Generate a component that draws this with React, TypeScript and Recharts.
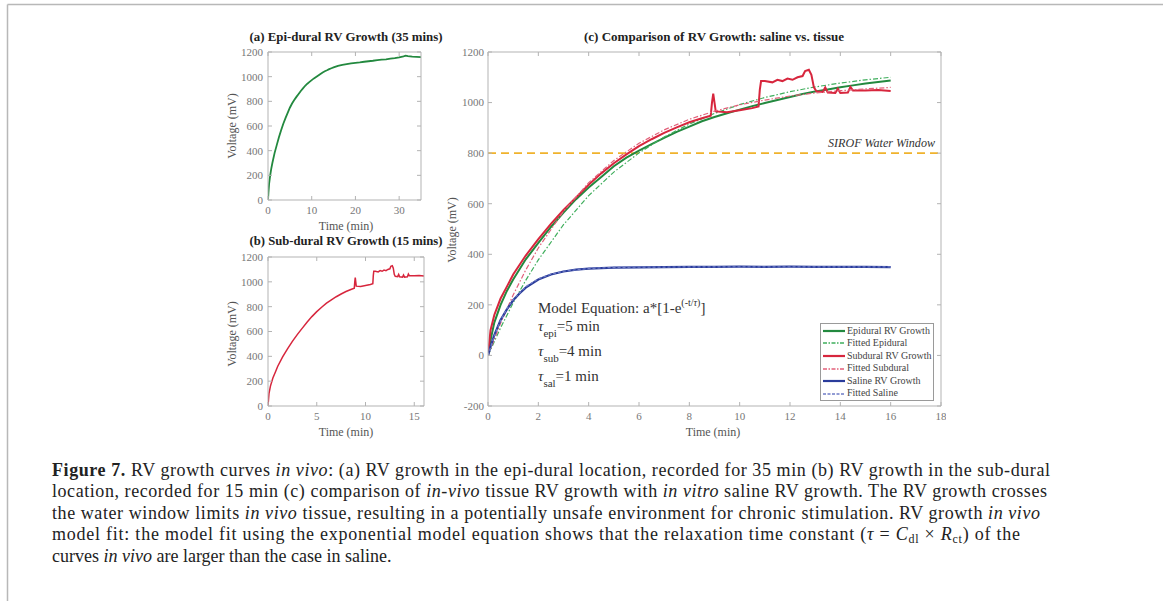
import React from 'react';
import { LineChart, Line, XAxis, YAxis, ReferenceLine, Legend } from 'recharts';

// ---------- data ----------
const epiTime = [0, 0.1, 0.25, 0.5, 0.75, 1, 1.5, 2, 2.5, 3, 3.5, 4, 4.5, 5, 5.5, 6, 6.5, 7, 7.5, 8, 8.5, 9, 9.5, 10, 10.5, 11, 11.5, 12, 12.5, 13, 13.5, 14, 14.5, 15, 15.5, 16, 17, 18, 19, 20, 21, 22, 23, 24, 25, 26, 27, 28, 29, 30, 31, 31.5, 32, 33, 34, 35];
const epiVolt = [0, 60, 130, 200, 255, 300, 380, 445, 508, 565, 618, 664, 706, 748, 782, 810, 836, 860, 884, 905, 926, 943, 958, 972, 986, 998, 1010, 1022, 1034, 1044, 1052, 1061, 1068, 1075, 1081, 1087, 1095, 1102, 1107, 1112, 1116, 1121, 1125, 1129, 1134, 1138, 1141, 1146, 1150, 1157, 1165, 1170, 1166, 1162, 1160, 1158];

const subTime = [0, 0.1, 0.25, 0.5, 0.75, 1, 1.5, 2, 2.5, 3, 3.5, 4, 4.5, 5, 5.5, 6, 6.5, 7, 7.5, 8, 8.5, 8.85, 8.9, 8.95, 9.0, 9.05, 9.5, 10, 10.5, 10.75, 10.8, 10.85, 11, 11.3, 11.5, 11.7, 11.9, 12.1, 12.3, 12.5, 12.6, 12.75, 12.85, 12.95, 13.05, 13.3, 13.4, 13.5, 13.8, 13.9, 14.0, 14.3, 14.4, 14.5, 15, 15.5, 16];
const subVolt = [0, 100, 160, 225, 272, 320, 395, 460, 520, 575, 625, 675, 720, 760, 795, 828, 855, 880, 902, 922, 938, 948, 1000, 1035, 1000, 965, 962, 970, 978, 985, 1050, 1085, 1085, 1080, 1090, 1085, 1095, 1090, 1100, 1105, 1125, 1130, 1110, 1060, 1045, 1042, 1060, 1040, 1038, 1055, 1038, 1040, 1062, 1048, 1048, 1050, 1046];

const salTime = [0, 0.1, 0.25, 0.5, 0.75, 1, 1.25, 1.5, 2, 2.5, 3, 3.5, 4, 5, 6, 7, 8, 9, 10, 11, 12, 13, 14, 15, 16];
const salVolt = [0, 35, 80, 140, 182, 218, 245, 268, 300, 320, 332, 339, 343, 347, 348, 349, 350, 350, 351, 350, 351, 350, 350, 350, 349];

const fitEpiTime = [0, 0.5, 1, 1.5, 2, 3, 4, 5, 6, 7, 8, 9, 10, 11, 12, 13, 14, 15, 16];
const fitEpiVolt = [0, 109, 208, 297, 378, 517, 632, 725, 801, 864, 915, 957, 992, 1020, 1043, 1062, 1077, 1090, 1100];

const fitSubTime = [0, 0.5, 1, 1.5, 2, 3, 4, 5, 6, 7, 8, 9, 10, 11, 12, 13, 14, 15, 16];
const fitSubVolt = [0, 127, 239, 338, 425, 570, 683, 771, 839, 892, 934, 966, 991, 1010, 1026, 1038, 1047, 1054, 1060];

const fitSalTime = [0, 0.25, 0.5, 0.75, 1, 1.5, 2, 2.5, 3, 4, 5, 6, 8, 10, 12, 14, 16];
const fitSalVolt = [0, 77, 138, 185, 221, 272, 303, 321, 333, 344, 348, 349, 350, 350, 350, 350, 350];

const waterWindow = 800;

const aXTicks = [0, 10, 20, 30];
const bXTicks = [0, 5, 10, 15];
const cXTicks = [0, 2, 4, 6, 8, 10, 12, 14, 16, 18];
const abYTicks = [0, 200, 400, 600, 800, 1000, 1200];
const cYTicks = [-200, 0, 200, 400, 600, 800, 1000, 1200];

const legendLabels = ['Epidural RV Growth', 'Fitted Epidural', 'Subdural RV Growth', 'Fitted Subdural', 'Saline RV Growth', 'Fitted Saline'];

// ---------- styles ----------
const SERIF = '"Liberation Serif", "Times New Roman", serif';
const AXIS = '#b3b3b3';
const GREEN = '#23893f';
const GREEN_FIT = '#3fae5c';
const RED = '#d7263d';
const RED_FIT = '#e2607a';
const BLUE = '#2a3c9b';
const BLUE_FIT = '#6f7cc6';
const ORANGE = '#f0b22c';

const legendStyles = [
  { color: GREEN, dash: undefined as string | undefined },
  { color: GREEN_FIT, dash: '4 1.5 1.5 1.5' },
  { color: RED, dash: undefined },
  { color: RED_FIT, dash: '4 1.5 1.5 1.5' },
  { color: BLUE, dash: undefined },
  { color: BLUE_FIT, dash: '3 1.5' },
];

const toPts = (t: number[], v: number[]) => t.map((x, i) => ({ t: x, v: v[i] }));

const epiPts = toPts(epiTime, epiVolt);
const epiPts16 = epiPts.filter((p) => p.t <= 16);
const subPts = toPts(subTime, subVolt);
const salPts = toPts(salTime, salVolt);
const fitEpiPts = toPts(fitEpiTime, fitEpiVolt);
const fitSubPts = toPts(fitSubTime, fitSubVolt);
const fitSalPts = toPts(fitSalTime, fitSalVolt);

const tickStyle = { fontSize: 11, fill: '#777', fontFamily: SERIF };
const blank = () => '';

function boxAxes(xd: [number, number], xt: number[], yd: [number, number], yt: number[], yMargin: number) {
  return [
    <XAxis key="xb" xAxisId={0} dataKey="t" type="number" domain={xd} ticks={xt} interval={0} height={30}
      tickSize={-4} tickMargin={10.5} allowDataOverflow axisLine={{ stroke: AXIS }} tickLine={{ stroke: AXIS }} tick={tickStyle} />,
    <XAxis key="xt" xAxisId="top" orientation="top" dataKey="t" type="number" domain={xd} ticks={xt} interval={0} height={5}
      tickSize={-4} allowDataOverflow tickFormatter={blank} axisLine={{ stroke: AXIS }} tickLine={{ stroke: AXIS }} tick={tickStyle} />,
    <YAxis key="yl" yAxisId={0} type="number" domain={yd} ticks={yt} interval={0} width={60}
      tickSize={-4} tickMargin={yMargin} allowDataOverflow axisLine={{ stroke: AXIS }} tickLine={{ stroke: AXIS }} tick={tickStyle} />,
    <YAxis key="yr" yAxisId="right" orientation="right" type="number" domain={yd} ticks={yt} interval={0} width={5}
      tickSize={-4} allowDataOverflow tickFormatter={blank} axisLine={{ stroke: AXIS }} tickLine={{ stroke: AXIS }} tick={tickStyle} />,
  ];
}

const renderLegend = () => (
  <div style={{ border: '1px solid #9a9a9a', background: '#fff', width: 112, height: 75, boxSizing: 'content-box', fontFamily: SERIF, fontSize: 10, color: '#444', padding: '0.5px 0' }}>
    {legendLabels.map((lab, i) => (
      <div key={lab} style={{ height: 12.6, lineHeight: '12.6px', display: 'flex', alignItems: 'center', whiteSpace: 'nowrap' }}>
        <svg width={24} height={8} style={{ marginLeft: 1, marginRight: 1 }}>
          <line x1={1} y1={4} x2={23} y2={4} stroke={legendStyles[i].color} strokeWidth={legendStyles[i].dash ? 1.3 : 2.2} strokeDasharray={legendStyles[i].dash} />
        </svg>
        <span>{lab}</span>
      </div>
    ))}
  </div>
);

export default function App() {
  return (
    <div style={{ position: 'absolute', left: 0, top: 0, width: 1163, height: 601, background: '#fff', overflow: 'hidden' }}>
      {/* Panel (a) */}
      <div style={{ position: 'absolute', left: 208, top: 47 }}>
        <LineChart width={218} height={183} margin={{ top: 0, right: 0, bottom: 0, left: 0 }}>
          {boxAxes([0, 35], aXTicks, [0, 1200], abYTicks, 9)}
          <Line data={epiPts} dataKey="v" stroke={GREEN} strokeWidth={1.8} dot={false} isAnimationActive={false} />
        </LineChart>
      </div>

      {/* Panel (b) */}
      <div style={{ position: 'absolute', left: 208, top: 252 }}>
        <LineChart width={221} height={184} margin={{ top: 0, right: 0, bottom: 0, left: 0 }}>
          {boxAxes([0, 16], bXTicks, [0, 1200], abYTicks, 9)}
          <Line data={subPts} dataKey="v" stroke={RED} strokeWidth={1.5} dot={false} isAnimationActive={false} />
        </LineChart>
      </div>

      {/* Panel (c) */}
      <div style={{ position: 'absolute', left: 428, top: 47 }}>
        <LineChart width={518} height={389} margin={{ top: 0, right: 0, bottom: 0, left: 0 }}>
          {boxAxes([0, 18], cXTicks, [-200, 1200], cYTicks, 8)}
          <ReferenceLine y={waterWindow} stroke={ORANGE} strokeWidth={1.6} strokeDasharray="8 5" />
          <Line data={epiPts16} dataKey="v" stroke={GREEN} strokeWidth={2} dot={false} isAnimationActive={false} />
          <Line data={fitEpiPts} dataKey="v" stroke={GREEN_FIT} strokeWidth={1.2} strokeDasharray="5 2 1.5 2" dot={false} isAnimationActive={false} />
          <Line data={subPts} dataKey="v" stroke={RED} strokeWidth={2} dot={false} isAnimationActive={false} />
          <Line data={fitSubPts} dataKey="v" stroke={RED_FIT} strokeWidth={1.2} strokeDasharray="5 2 1.5 2" dot={false} isAnimationActive={false} />
          <Line data={salPts} dataKey="v" stroke={BLUE} strokeWidth={2.2} dot={false} isAnimationActive={false} />
          <Line data={fitSalPts} dataKey="v" stroke={BLUE_FIT} strokeWidth={1.2} strokeDasharray="3 2" dot={false} isAnimationActive={false} />
          <Legend layout="vertical" align="center" verticalAlign="middle" content={renderLegend}
            wrapperStyle={{ left: 392, top: 276, width: 114, height: 77, right: 'auto', bottom: 'auto' }} />
        </LineChart>
      </div>

      {/* Text overlay */}
      <svg width={1163} height={601} style={{ position: 'absolute', left: 0, top: 0, pointerEvents: 'none' }} fontFamily={SERIF}>
        <line x1={7.5} y1={4.5} x2={1163} y2={4.5} stroke="#b8b8b8" strokeWidth={1.5} />
        <line x1={7.5} y1={4.5} x2={7.5} y2={601} stroke="#b8b8b8" strokeWidth={1.5} />

        {/* titles */}
        <text x={346} y={41} textAnchor="middle" fontSize={11.5} fontWeight="bold" fill="#222" textLength={193} lengthAdjust="spacingAndGlyphs">(a) Epi-dural RV Growth (35 mins)</text>
        <text x={346} y={245} textAnchor="middle" fontSize={11.5} fontWeight="bold" fill="#222" textLength={193} lengthAdjust="spacingAndGlyphs">(b) Sub-dural RV Growth (15 mins)</text>
        <text x={714} y={41} textAnchor="middle" fontSize={11.5} fontWeight="bold" fill="#222" textLength={260} lengthAdjust="spacingAndGlyphs">(c) Comparison of RV Growth: saline vs. tissue</text>

        {/* axis labels */}
        <text x={346} y={229.5} textAnchor="middle" fontSize={12} fill="#555">Time (min)</text>
        <text x={346} y={436} textAnchor="middle" fontSize={12} fill="#555">Time (min)</text>
        <text x={713} y={436} textAnchor="middle" fontSize={12} fill="#555">Time (min)</text>
        <text transform="translate(236,126) rotate(-90)" textAnchor="middle" fontSize={12} fill="#555">Voltage (mV)</text>
        <text transform="translate(236,334) rotate(-90)" textAnchor="middle" fontSize={12} fill="#555">Voltage (mV)</text>
        <text transform="translate(456,230) rotate(-90)" textAnchor="middle" fontSize={12} fill="#555">Voltage (mV)</text>

        {/* water window */}
        <text x={935} y={147} textAnchor="end" fontSize={11.5} fontStyle="italic" fill="#333" textLength={107} lengthAdjust="spacingAndGlyphs">SIROF Water Window</text>

        {/* model equation */}
        <text x={538} y={312.7} fontSize={15} fill="#333">
          Model Equation: a*[1-e<tspan dy={-7} fontSize={10}>(-t/</tspan><tspan fontSize={10} fontStyle="italic">τ</tspan><tspan fontSize={10}>)</tspan><tspan dy={7} fontSize={15}>]</tspan>
        </text>
        <text x={538} y={330.7} fontSize={15} fill="#333"><tspan fontStyle="italic">τ</tspan><tspan dy={6} fontSize={11}>epi</tspan><tspan dy={-6}>=5 min</tspan></text>
        <text x={538} y={355.7} fontSize={15} fill="#333"><tspan fontStyle="italic">τ</tspan><tspan dy={6} fontSize={11}>sub</tspan><tspan dy={-6}>=4 min</tspan></text>
        <text x={538} y={380.7} fontSize={15} fill="#333"><tspan fontStyle="italic">τ</tspan><tspan dy={6} fontSize={11}>sal</tspan><tspan dy={-6}>=1 min</tspan></text>

        {/* caption */}
        <g fontSize={18} fill="#222">
          <text x={52} y={475.5} textLength={998} lengthAdjust="spacing">
            <tspan fontWeight="bold">Figure 7.</tspan> RV growth curves <tspan fontStyle="italic">in vivo</tspan>: (a) RV growth in the epi-dural location, recorded for 35 min (b) RV growth in the sub-dural
          </text>
          <text x={52} y={497} textLength={995} lengthAdjust="spacing">
            location, recorded for 15 min (c) comparison of <tspan fontStyle="italic">in-vivo</tspan> tissue RV growth with <tspan fontStyle="italic">in vitro</tspan> saline RV growth. The RV growth crosses
          </text>
          <text x={52} y={518.5} textLength={988} lengthAdjust="spacing">
            the water window limits <tspan fontStyle="italic">in vivo</tspan> tissue, resulting in a potentially unsafe environment for chronic stimulation. RV growth <tspan fontStyle="italic">in vivo</tspan>
          </text>
          <text x={52} y={540} textLength={968} lengthAdjust="spacing">
            model fit: the model fit using the exponential model equation shows that the relaxation time constant (<tspan fontStyle="italic">τ</tspan> = <tspan fontStyle="italic">C</tspan><tspan dy={3} fontSize={12}>dl</tspan><tspan dy={-3}> × </tspan><tspan fontStyle="italic">R</tspan><tspan dy={3} fontSize={12}>ct</tspan><tspan dy={-3}>) of the</tspan>
          </text>
          <text x={52} y={561.5}>
            curves <tspan fontStyle="italic">in vivo</tspan> are larger than the case in saline.
          </text>
        </g>
      </svg>
    </div>
  );
}
